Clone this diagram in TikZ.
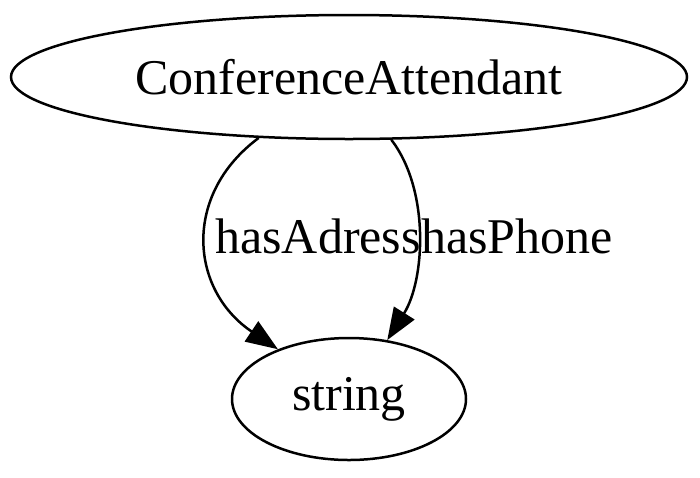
\documentclass[tikz,border=0pt]{standalone}
\usepackage{fontspec}
\setmainfont{Liberation Serif}
\usetikzlibrary{shapes.geometric,arrows.meta}
\begin{document}
\begin{tikzpicture}[x=1pt,y=-1pt,
  ell/.style={draw,ellipse,line width=2.5pt,inner sep=0pt,font=\fontsize{50}{60}\selectfont},
  lbl/.style={inner sep=0pt,font=\fontsize{50}{60}\selectfont},
  edge/.style={line width=2.5pt,-{Triangle[length=32pt,width=24pt]}}]
\useasboundingbox (0,0) rectangle (700,477);
\node[ell,minimum width=676pt,minimum height=124pt] (A) at (349,77) {ConferenceAttendant};
\node[ell,minimum width=234pt,minimum height=122pt] (S) at (349,399) {string};
\draw[edge] (A.214) .. controls (182,195) and (190,290) .. (S.145);
\draw[edge] (A.-56) .. controls (430,190) and (425,280) .. (S.57);
\node[lbl,anchor=base east] (la) at (421,253) {hasAdress};
\node[lbl,anchor=base west] (lp) at (421,253) {hasPhone};
\end{tikzpicture}
\end{document}
